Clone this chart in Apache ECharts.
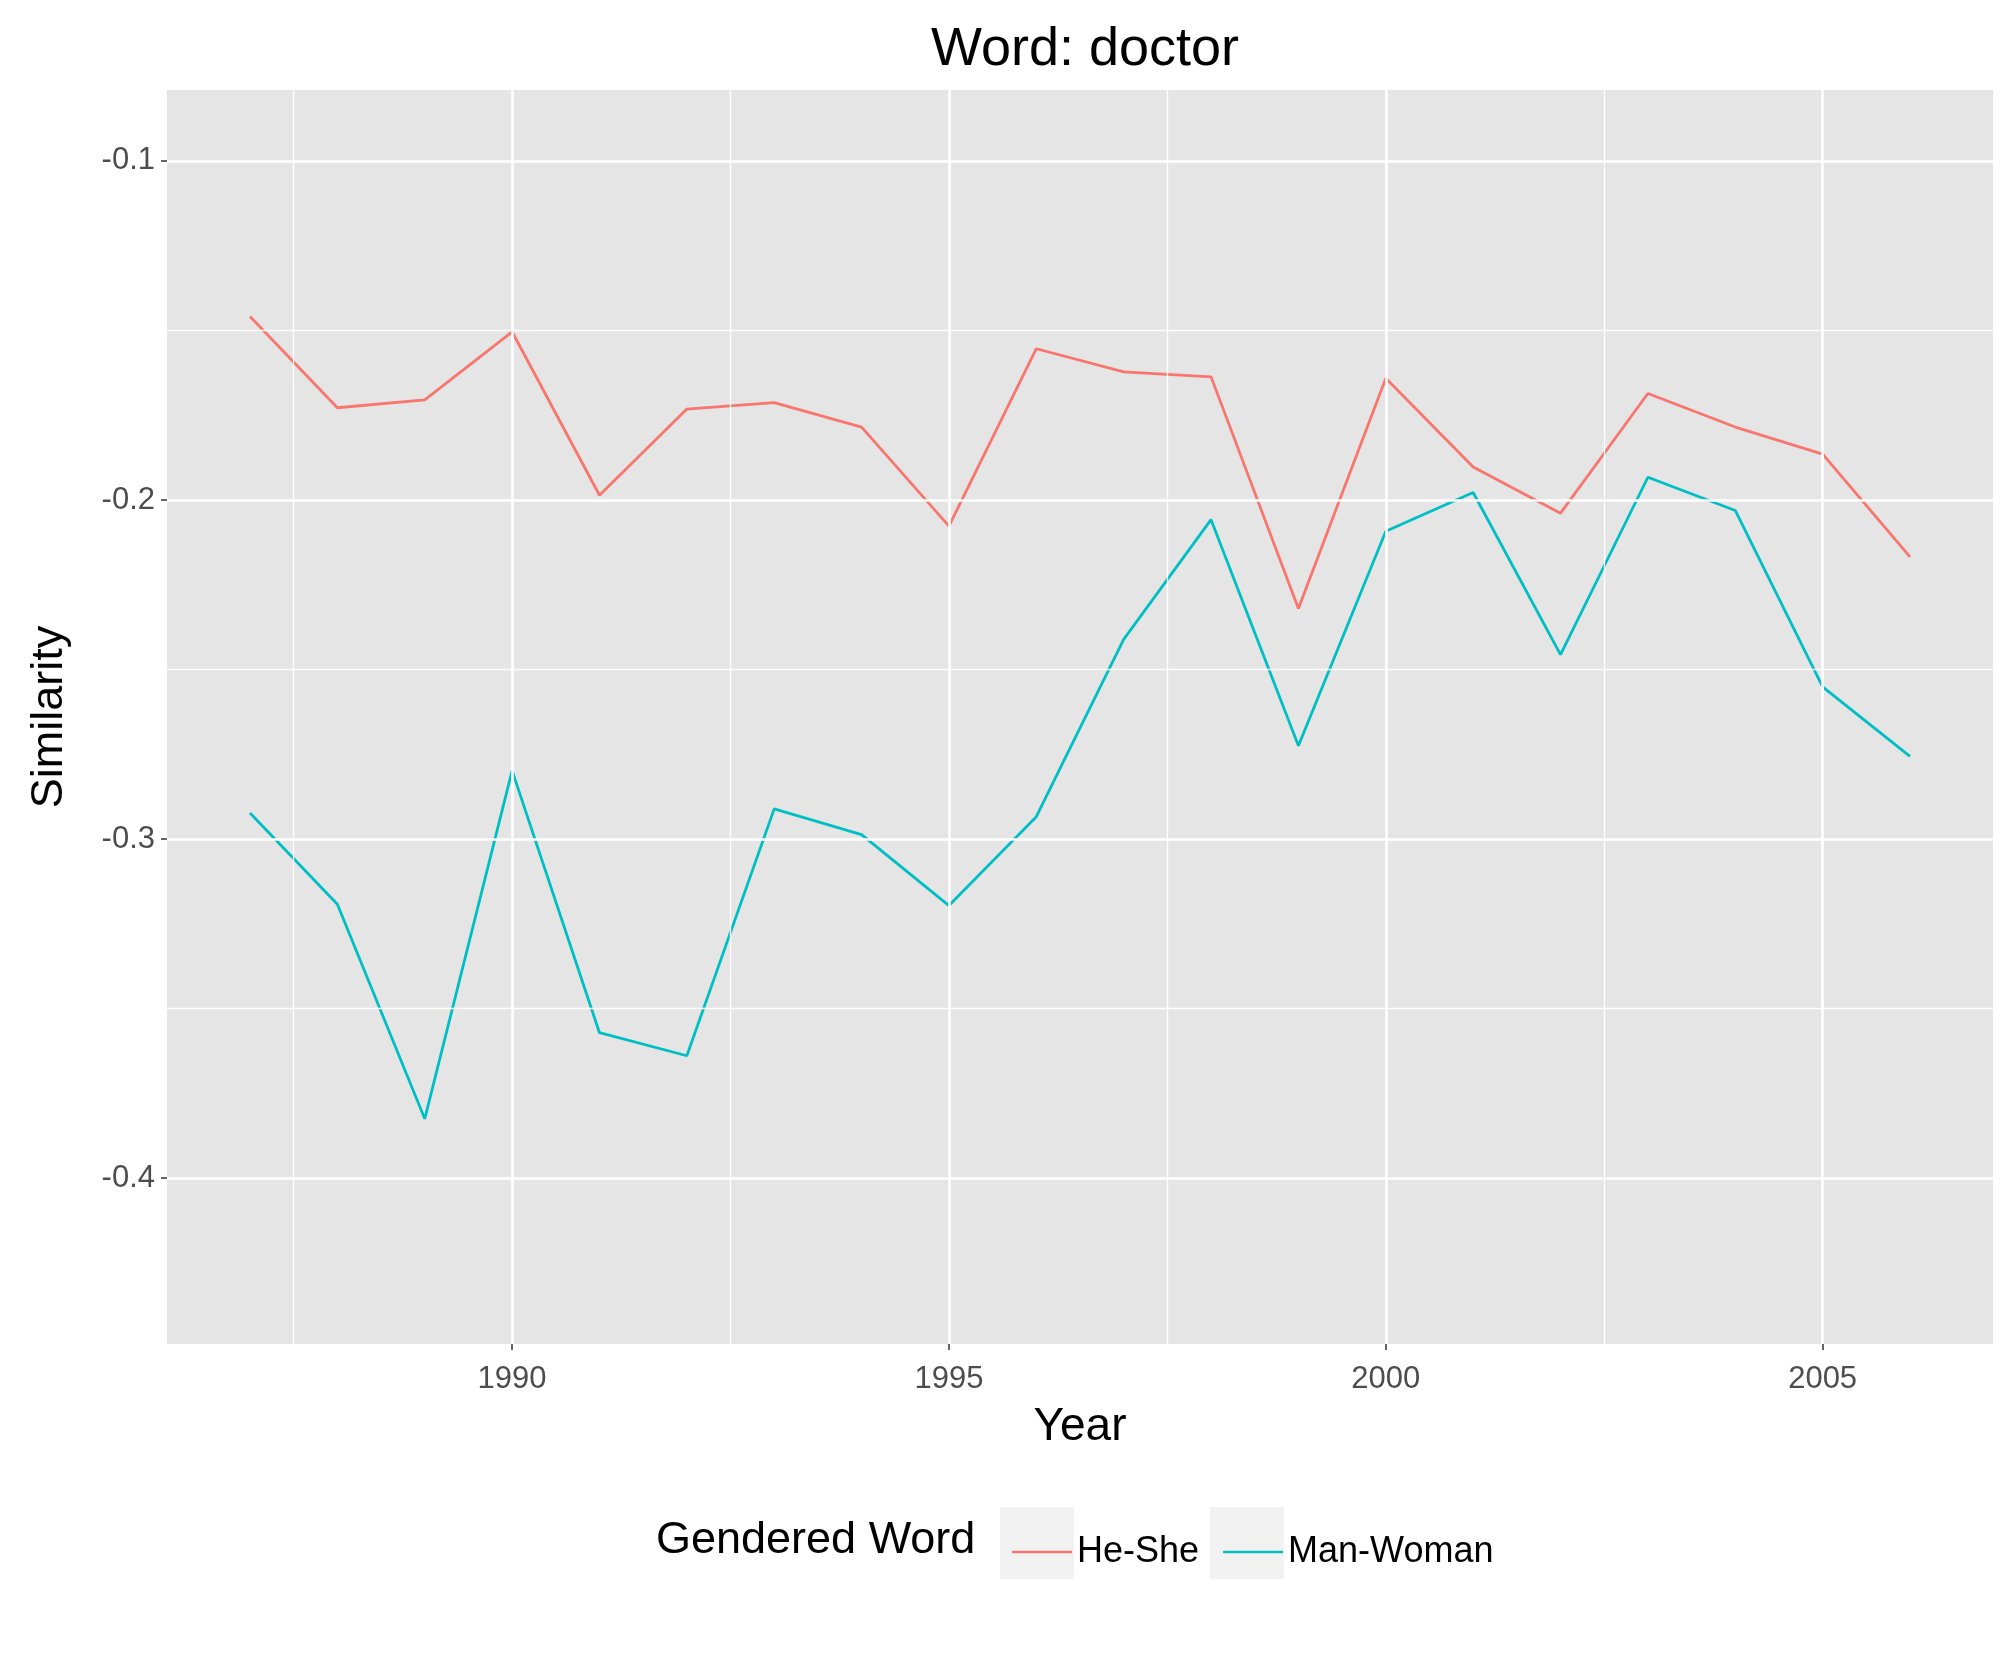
<!DOCTYPE html>
<html><head><meta charset="utf-8">
<script src="https://cdn.jsdelivr.net/npm/echarts@6/dist/echarts.min.js"></script>
<style>html,body{margin:0;padding:0;background:#fff}#c{width:2016px;height:1654px}</style>
</head><body><div id="c"></div>
<script>
var years = [1987,1988,1989,1990,1991,1992,1993,1994,1995,1996,1997,1998,1999,2000,2001,2002,2003,2004,2005,2006];
var heShe = [-0.1459,-0.1728,-0.1705,-0.1504,-0.1986,-0.1732,-0.1713,-0.1785,-0.2077,-0.1554,-0.1622,-0.1637,-0.2320,-0.1641,-0.1903,-0.2039,-0.1686,-0.1785,-0.1865,-0.2168];
var manWoman = [-0.2923,-0.3192,-0.3825,-0.2798,-0.3571,-0.3639,-0.2911,-0.2987,-0.3196,-0.2934,-0.2411,-0.2058,-0.2725,-0.2092,-0.1978,-0.2456,-0.1933,-0.2031,-0.2551,-0.2756];
var xMajor = [1990,1995,2000,2005];
var xMinor = [1987.5,1992.5,1997.5,2002.5];
var yMajor = [-0.1,-0.2,-0.3,-0.4];
var yMinor = [-0.15,-0.25,-0.35];

function pair(xs, ys) { return xs.map(function (x, i) { return [x, ys[i]]; }); }
var gridLines = [];
xMinor.forEach(function (v) { gridLines.push({xAxis: v, lineStyle: {width: 1.3}}); });
yMinor.forEach(function (v) { gridLines.push({yAxis: v, lineStyle: {width: 1.3}}); });
xMajor.forEach(function (v) { gridLines.push({xAxis: v, lineStyle: {width: 2.6}}); });
yMajor.forEach(function (v) { gridLines.push({yAxis: v, lineStyle: {width: 2.6}}); });

var font = 'Liberation Sans, Arial';
var chart = echarts.init(document.getElementById('c'));
var lbl = {fontFamily: font, fontSize: 31, color: '#4d4d4d'};
chart.setOption({
    animation: false,
    title: {text: 'Word: doctor', left: 1080, top: 18, textAlign: 'center',
        textStyle: {fontFamily: font, fontWeight: 'normal', fontSize: 54, color: '#000'}},
    grid: {left: 167, right: 23, top: 90, bottom: 310, show: true, backgroundColor: '#E5E5E5', borderWidth: 0},
    xAxis: {type: 'value', min: 1986.05, max: 2006.95, name: 'Year', nameLocation: 'middle', nameGap: 60,
        nameTextStyle: {fontFamily: font, fontSize: 46, color: '#000'},
        axisLine: {show: false}, splitLine: {show: false},
        axisTick: {show: true, length: 6, lineStyle: {color: '#333', width: 1.5}, customValues: xMajor},
        axisLabel: Object.assign({customValues: xMajor, margin: 20, formatter: function (v) { return String(v); }}, lbl)},
    yAxis: {type: 'value', min: -0.4489, max: -0.0791, name: 'Similarity', nameLocation: 'middle', nameGap: 95,
        nameTextStyle: {fontFamily: font, fontSize: 45, color: '#000'},
        axisLine: {show: false}, splitLine: {show: false},
        axisTick: {show: true, length: 6, lineStyle: {color: '#333', width: 1.5}, customValues: yMajor},
        axisLabel: Object.assign({customValues: yMajor, margin: 12, formatter: function (v) { return String(+v.toFixed(1)); }}, lbl)},
    legend: {left: 1007, top: 1529, itemWidth: 60, itemHeight: 28, itemGap: 24,
        icon: 'path://M0,13 L60,13 L60,15.5 L0,15.5 Z',
        textStyle: {fontFamily: font, fontSize: 36, color: '#000'},
        data: ['He-She', 'Man-Woman']},
    graphic: [
        {type: 'text', left: 656, top: 1518, z: 0,
            style: {text: 'Gendered Word', fontFamily: font, fontSize: 45, fill: '#000'}},
        {type: 'rect', shape: {x: 1000, y: 1507, width: 74, height: 72}, style: {fill: '#F2F2F2'}, z: -1},
        {type: 'rect', shape: {x: 1210, y: 1507, width: 74, height: 72}, style: {fill: '#F2F2F2'}, z: -1}
    ],
    series: [
        {type: 'line', name: '_grid', data: [], silent: true,
            markLine: {silent: true, symbol: 'none', label: {show: false},
                lineStyle: {color: '#fff', type: 'solid'}, data: gridLines}},
        {type: 'line', name: 'He-She', data: pair(years, heShe), showSymbol: false,
            lineStyle: {color: '#F8766D', width: 2.8}, itemStyle: {color: '#F8766D'}},
        {type: 'line', name: 'Man-Woman', data: pair(years, manWoman), showSymbol: false,
            lineStyle: {color: '#00BFC4', width: 2.8}, itemStyle: {color: '#00BFC4'}}
    ]
});
</script></body></html>
